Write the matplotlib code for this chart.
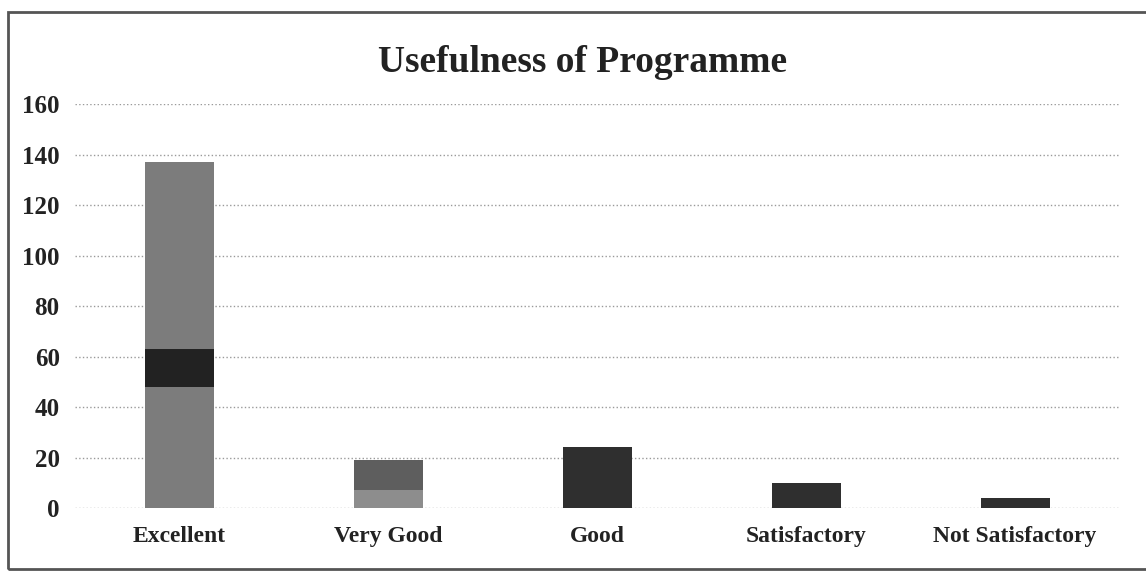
"""Usefulness of Programme: bar chart of participant ratings."""

import matplotlib
matplotlib.use("Agg")
import matplotlib.pyplot as plt
from matplotlib.patches import Rectangle

categories = ["Excellent", "Very Good", "Good", "Satisfactory", "Not Satisfactory"]
responses = [137, 19, 24, 10, 4]
bar_colors = ["#7c7c7c", "#8d8d8d", "#2f2f2f", "#2f2f2f", "#2f2f2f"]

# scan shading printed on top of the bars (start, height) per category
shade_start = [48, 7, 0, 0, 0]
shade_height = [15, 12, 0, 0, 0]
shade_colors = ["#222222", "#5e5e5e", "#2f2f2f", "#2f2f2f", "#2f2f2f"]

yticks = [0, 20, 40, 60, 80, 100, 120, 140, 160]

plt.rcParams["font.family"] = ["Liberation Serif", "DejaVu Serif"]

fig = plt.figure(figsize=(11.46, 5.76), dpi=100)
ax = fig.add_axes([0.0654, 0.118, 0.9116, 0.701])

x = range(len(categories))
ax.bar(x, responses, width=0.33, color=bar_colors, zorder=2)
ax.bar(x, shade_height, bottom=shade_start, width=0.33, color=shade_colors, zorder=3)

ax.set_xlim(-0.5, len(categories) - 0.5)
ax.set_ylim(0, 160)
ax.set_yticks(yticks)
ax.set_xticks(list(x))
ax.set_xticklabels(categories, fontsize=17, fontweight="bold", color="#222222")
ax.tick_params(axis="x", length=0, pad=13)
ax.tick_params(axis="y", length=0, pad=11, labelsize=18, labelcolor="#222222")
for lbl in ax.get_yticklabels():
    lbl.set_fontweight("bold")

ax.grid(axis="y", color="#9a9a9a", ls=":", lw=1.0, zorder=0)
for s in ax.spines.values():
    s.set_visible(False)

fig.text(0.508, 0.892, "Usefulness of Programme", ha="center", va="center",
         fontsize=27, fontweight="bold", color="#222222")

# outer frame of the printed chart
fig.patches.append(Rectangle((0.007, 0.012), 1.1, 0.967, transform=fig.transFigure,
                             fill=False, edgecolor="#555555", lw=2.0))

fig.savefig("out.png", dpi=100)
plt.close(fig)
